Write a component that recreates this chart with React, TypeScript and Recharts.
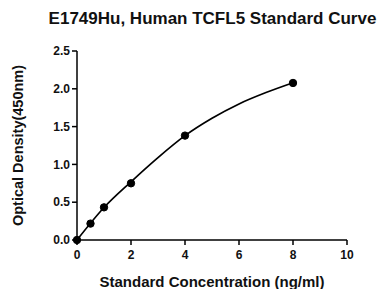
import { LineChart, Line, XAxis, YAxis, Label } from "recharts";

// measured standards
const concentrations = [0, 0.5, 1, 2, 4, 8];
const densities = [0, 0.217, 0.432, 0.75, 1.381, 2.077];

// fitted curve at whole-number concentrations
const curveX = [0, 1, 2, 3, 4, 5, 6, 7, 8];
const curveY = [0, 0.43, 0.77, 1.09, 1.38, 1.61, 1.8, 1.95, 2.08];

const xTicks = [0, 2, 4, 6, 8, 10];
const yTicks = [0, 0.5, 1, 1.5, 2, 2.5];

const points = concentrations.map((c, i) => ({ x: c, y: densities[i] }));
const curve = curveX.map((c, i) => ({ x: c, y: curveY[i] }));

const FONT = "'Liberation Sans', Arial, Helvetica, sans-serif";

export default function App() {
  return (
    <div style={{ position: "absolute", left: 0, top: 0, width: 383, height: 289, background: "#fff", fontFamily: FONT }}>
      <div
        style={{
          position: "absolute",
          left: 0,
          width: 425,
          top: 9,
          textAlign: "center",
          fontSize: 17,
          fontWeight: 700,
          color: "#111",
          whiteSpace: "nowrap",
        }}
      >
        E1749Hu, Human TCFL5 Standard Curve
      </div>
      <LineChart
        width={383}
        height={289}
        margin={{ top: 51, right: 36, bottom: 0, left: 0 }}
        style={{ fontFamily: FONT }}
      >
        <XAxis
          type="number"
          dataKey="x"
          domain={[0, 10]}
          ticks={xTicks}
          height={49}
          stroke="#000"
          strokeWidth={1.5}
          tickSize={5}
          tickMargin={5}
          tick={{ fill: "#111", fontSize: 12, fontWeight: 700 }}
        >
          <Label
            value="Standard Concentration (ng/ml)"
            position="insideBottom"
            offset={2}
            style={{ fill: "#111", fontSize: 15, fontWeight: 700 }}
          />
        </XAxis>
        <YAxis
          type="number"
          dataKey="y"
          domain={[0, 2.5]}
          ticks={yTicks}
          tickFormatter={(v: number) => v.toFixed(1)}
          width={77}
          stroke="#000"
          strokeWidth={1.5}
          tickSize={5}
          tickMargin={2}
          tick={{ fill: "#111", fontSize: 12, fontWeight: 700 }}
        >
          <Label
            value="Optical Density(450nm)"
            angle={-90}
            position="insideLeft"
            offset={18}
            style={{ textAnchor: "middle", fill: "#111", fontSize: 14.5, fontWeight: 700 }}
          />
        </YAxis>
        <Line
          data={curve}
          type="monotone"
          dataKey="y"
          stroke="#000"
          strokeWidth={1.7}
          dot={false}
          activeDot={false}
          isAnimationActive={false}
        />
        <Line
          data={points}
          type="linear"
          dataKey="y"
          stroke="none"
          dot={{ r: 3.7, fill: "#000", stroke: "#000", strokeWidth: 1 }}
          activeDot={false}
          isAnimationActive={false}
        />
      </LineChart>
    </div>
  );
}
